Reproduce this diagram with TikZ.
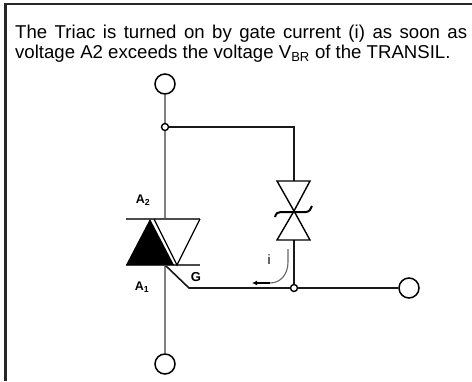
\documentclass[tikz,border=0pt]{standalone}
\usepackage{fontspec}
\setmainfont{Liberation Sans}
\usetikzlibrary{arrows.meta}
\tikzset{
    wire/.style={line width=1.6pt, black!90},
    leadwire/.style={line width=1.5pt, black!50},
    terminal/.style={circle, draw, line width=1.5pt, fill=white, minimum size=20pt, inner sep=0pt},
    junction/.style={circle, draw, line width=1.4pt, fill=white, minimum size=7pt, inner sep=0pt},
    pinlabel/.style={font=\bfseries\fontsize{12.5}{12.5}\selectfont, inner sep=0pt},
    caption/.style={font=\fontsize{18.6}{20}\selectfont, inner sep=0pt, anchor=base west},
}
\begin{document}
\begin{tikzpicture}[x=1pt, y=-1pt]
    \useasboundingbox (0, 0) rectangle (472, 381);

    % frame
    \draw[line width=2.2pt, black!85] (5.5, 381) -- (5.5, 4) -- (472, 4);

    \node[caption] (line1) at (15, 38) {\makebox[452pt][s]{The Triac is turned on by gate current (i) as soon as}};
    \node[caption] (line2) at (15, 58) {voltage A2 exceeds the voltage V\textsubscript{BR} of the TRANSIL.};

    \node[terminal] (top) at (165, 84) {};
    \node[terminal] (bottom) at (165, 364) {};
    \node[terminal] (right) at (409, 288) {};
    \coordinate (mt) at (165, 219);
    \coordinate (mb) at (165, 265);
    \coordinate (bend) at (189, 288);
    \coordinate (zt) at (294, 181);
    \coordinate (zb) at (294, 240);

    \draw[leadwire] (top) -- (mt);
    \draw[leadwire] (mb) -- (bottom);
    \draw[wire] (165, 127) -| (zt);
    \draw[wire] (zb) -- (294, 288);
    \draw[wire] (mb) -- (bend) -- (right);

    \node[junction] (upper) at (165, 127) {};
    \node[junction] (lower) at (294, 288) {};

    % triac
    \draw[line width=1.1pt, black!70] (126, 219) -- (200, 219);
    \draw[line width=1.1pt, black!70] (126, 265) -- (200, 265);
    \fill (150, 219) -- (174, 265) -- (126, 265) -- cycle;
    \draw[line width=1.3pt, black, line join=miter] (154, 219) -- (177, 265) -- (200, 219);

    % transil
    \draw[line width=1.4pt] (277, 181) -- (310, 181) -- (294, 211) -- cycle;
    \draw[line width=1.4pt] (277, 240) -- (310, 240) -- (294, 211) -- cycle;
    \draw[line width=2pt] (275, 217) .. controls (276, 213) and (278, 212) .. (281, 212) -- (306, 212) .. controls (309, 212) and (311, 209) .. (312, 206);

    % current
    \draw[line width=1.1pt, black!60] (288, 249) -- (288, 262) .. controls (288, 275) and (280, 283) .. (270, 283);
    \draw[line width=1.3pt, -{Latex[length=5pt, width=5pt]}] (270, 283) -- (252, 283);
    \node[font=\fontsize{13.5}{14}\selectfont, inner sep=0pt] (ilabel) at (269, 260) {i};

    \node[pinlabel] (a2) at (143, 200) {A\textsubscript{2}};
    \node[pinlabel] (a1) at (142, 287) {A\textsubscript{1}};
    \node[pinlabel, font=\bfseries\fontsize{13}{13}\selectfont] (g) at (196, 277) {G};
\end{tikzpicture}
\end{document}
